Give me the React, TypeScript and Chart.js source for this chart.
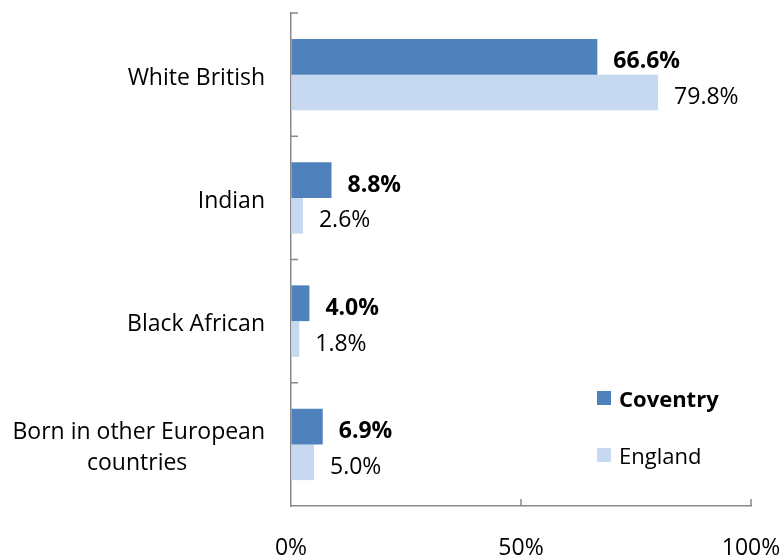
import React, { useEffect, useRef } from 'react';
import { Chart, registerables } from 'chart.js';

Chart.register(...registerables);

const categories: string[][] = [
  ['White British'],
  ['Indian'],
  ['Black African'],
  ['Born in other European', 'countries             '],
];
const seriesNames = ['Coventry', 'England'];
const coventry = [66.6, 8.8, 4.0, 6.9];
const england = [79.8, 2.6, 1.8, 5.0];
const xTickValues = [0, 50, 100];

const FONT = "'Open Sans', sans-serif";
const AXIS = '#898989';
const COLORS = ['#4F81BD', '#C6D9F1'];

export default function App() {
  const ref = useRef<HTMLCanvasElement>(null);

  useEffect(() => {
    const canvas = ref.current!;

    const decor = {
      id: 'decor',
      afterDatasetsDraw(chart: any) {
        const ctx = chart.ctx as CanvasRenderingContext2D;
        const { left, right, bottom } = chart.chartArea;
        const ys = chart.scales.y;
        const xs = chart.scales.x;
        ctx.save();
        // inward tick marks
        ctx.strokeStyle = AXIS;
        ctx.lineWidth = 1.5;
        ctx.beginPath();
        for (let i = 0; i < categories.length; i++) {
          const py = ys.getPixelForValue(i - 0.5);
          ctx.moveTo(left, py);
          ctx.lineTo(left + 7, py);
        }
        for (const v of xTickValues.slice(1)) {
          const px = xs.getPixelForValue(v);
          ctx.moveTo(px, bottom);
          ctx.lineTo(px, bottom - 7);
        }
        ctx.stroke();

        // data labels
        ctx.fillStyle = '#000';
        ctx.textAlign = 'left';
        ctx.textBaseline = 'middle';
        chart.data.datasets.forEach((ds: any, di: number) => {
          const meta = chart.getDatasetMeta(di);
          ctx.font = `${di === 0 ? 'bold ' : ''}23px ${FONT}`;
          meta.data.forEach((bar: any, i: number) => {
            ctx.fillText(Number(ds.data[i]).toFixed(1) + '%', bar.x + 16, bar.y + 5);
          });
        });

        // legend
        const lx = right - 154;
        const rows = [bottom - 108, bottom - 51];
        seriesNames.forEach((name, i) => {
          const cy = rows[i];
          ctx.fillStyle = COLORS[i];
          ctx.fillRect(lx, cy - 7, 14, 14);
          ctx.fillStyle = '#000';
          ctx.font = `${i === 0 ? 'bold ' : ''}22px ${FONT}`;
          ctx.fillText(name, lx + 22, cy + 3);
        });
        ctx.restore();
      },
    };

    const chart = new Chart(canvas, {
      type: 'bar',
      data: {
        labels: categories,
        datasets: [
          {
            label: seriesNames[0],
            data: coventry,
            backgroundColor: COLORS[0],
            barPercentage: 1,
            categoryPercentage: 0.58,
          },
          {
            label: seriesNames[1],
            data: england,
            backgroundColor: COLORS[1],
            barPercentage: 1,
            categoryPercentage: 0.58,
          },
        ],
      },
      options: {
        indexAxis: 'y',
        responsive: false,
        animation: false,
        layout: { padding: { top: 13, right: 31, left: 0, bottom: 0 } },
        plugins: {
          legend: { display: false },
          tooltip: { enabled: false },
        },
        scales: {
          x: {
            min: 0,
            max: 100,
            afterBuildTicks(scale: any) {
              scale.ticks = xTickValues.map((v) => ({ value: v }));
            },
            ticks: {
              callback: (v: any) => v + '%',
              font: { family: FONT, size: 23 },
              color: '#000',
              padding: 29,
              maxRotation: 0,
            },
            grid: { drawOnChartArea: false, drawTicks: false },
            border: { color: AXIS, width: 1.5 },
            afterFit(scale: any) {
              scale.height = 51;
              scale.paddingLeft = 0;
              scale.paddingRight = 0;
            },
          },
          y: {
            ticks: {
              font: { family: FONT, size: 23, lineHeight: 1.37 },
              color: '#000',
              padding: 26,
              crossAlign: 'near',
              labelOffset: 3.5,
            },
            grid: { drawOnChartArea: false, drawTicks: false },
            border: { color: AXIS, width: 1.5 },
            afterFit(scale: any) {
              scale.width = 291;
              scale.paddingTop = 0;
              scale.paddingBottom = 0;
            },
          },
        },
      },
      plugins: [decor],
    });

    return () => chart.destroy();
  }, []);

  return (
    <div style={{ position: 'absolute', left: 0, top: 0, width: 782, height: 557, background: '#fff' }}>
      <canvas ref={ref} width={782} height={557} />
    </div>
  );
}
